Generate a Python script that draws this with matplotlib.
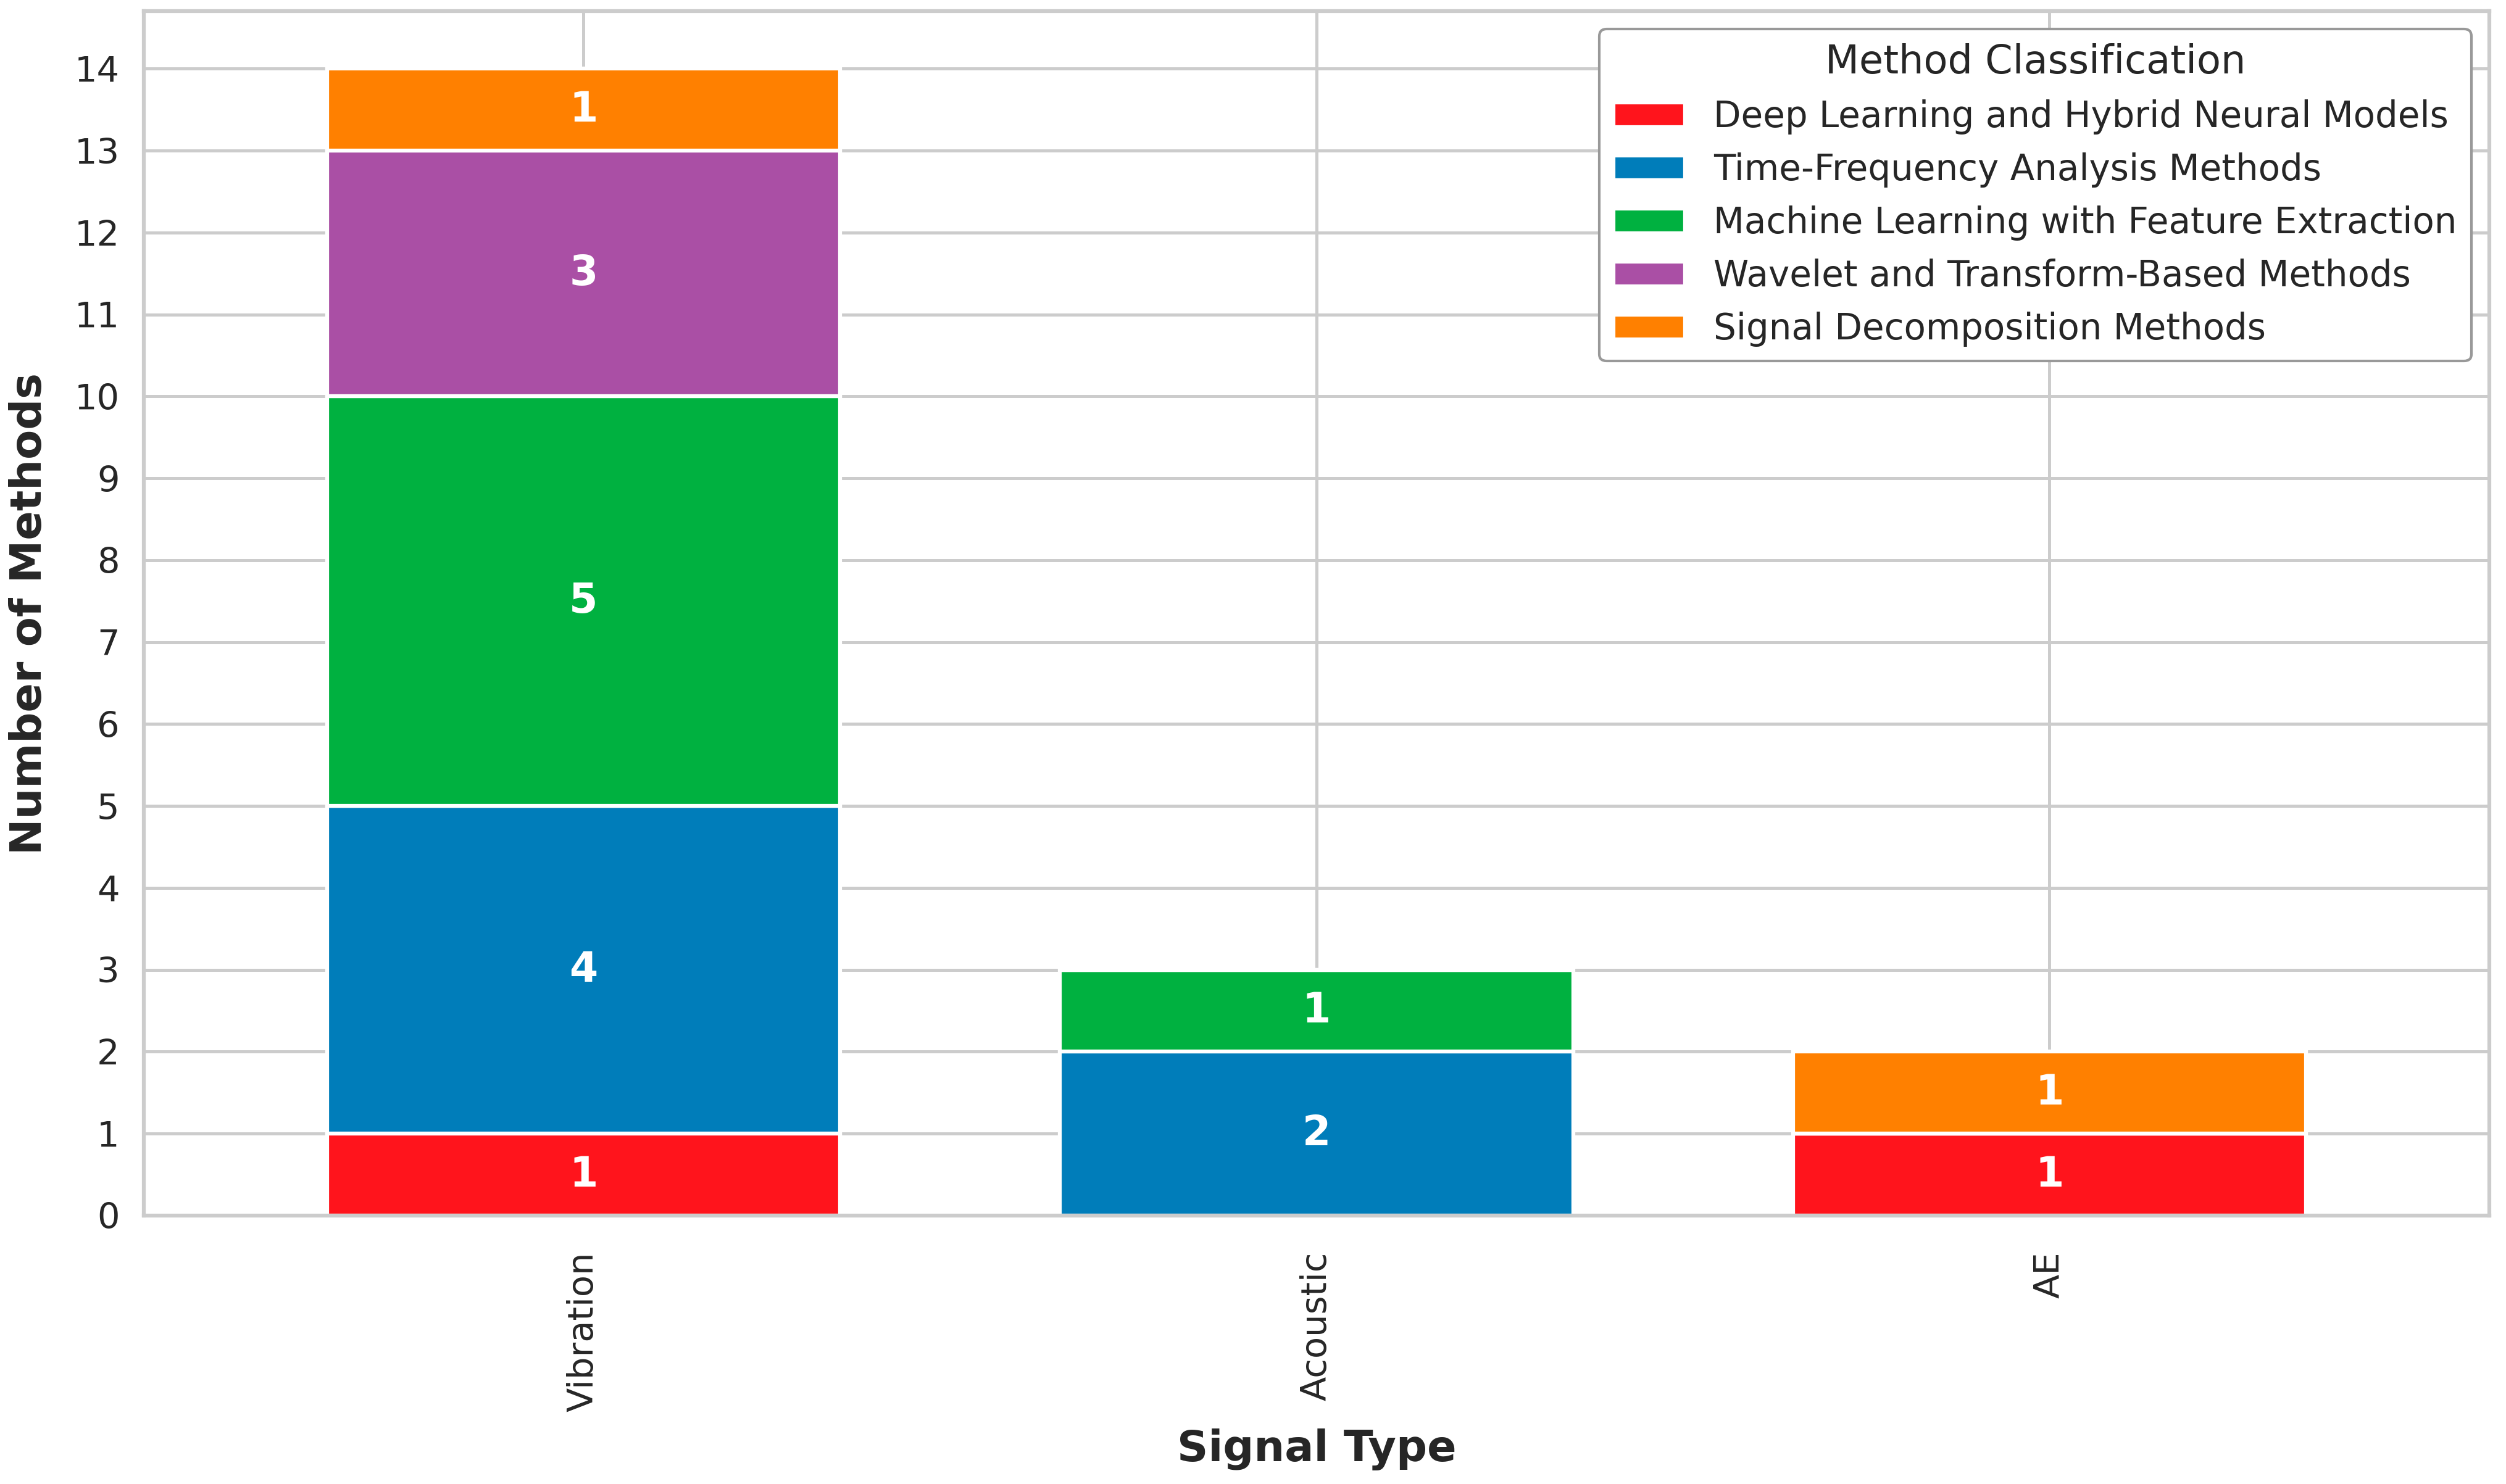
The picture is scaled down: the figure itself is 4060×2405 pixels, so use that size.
import numpy as np
import matplotlib
matplotlib.use('Agg')
import matplotlib.pyplot as plt
import seaborn as sns

sns.set_theme(style='whitegrid')
plt.rcParams['font.family'] = ['DejaVu Sans']

signal_types = ['Vibration', 'Acoustic', 'AE']
methods = ['Deep Learning and Hybrid Neural Models',
           'Time-Frequency Analysis Methods',
           'Machine Learning with Feature Extraction',
           'Wavelet and Transform-Based Methods',
           'Signal Decomposition Methods']
deep_learning = [1, 0, 1]
time_frequency = [4, 2, 0]
machine_learning = [5, 1, 0]
wavelet = [3, 0, 0]
decomposition = [1, 0, 1]
colors = ['#ff141c', '#007dba', '#00b140', '#aa4fa5', '#ff8000']

counts = [deep_learning, time_frequency, machine_learning, wavelet, decomposition]

fig = plt.figure(figsize=(4060 / 300, 2405 / 300), dpi=300)
ax = fig.add_axes([0.0574, 0.1809, 0.9359, 0.8115])

x = np.arange(len(signal_types))
bottom = np.zeros(len(signal_types))
for name, vals, col in zip(methods, counts, colors):
    vals = np.array(vals, dtype=float)
    bars = ax.bar(x, vals, 0.7, bottom=bottom, color=col, label=name,
                  edgecolor='white', linewidth=1.5, zorder=2)
    for b, v in zip(bars, vals):
        if v > 0:
            ax.text(b.get_x() + b.get_width() / 2, b.get_y() + v / 2, f"{int(v)}",
                    ha='center', va='center', color='white', fontsize=16,
                    fontweight='bold', zorder=3)
    bottom += vals

ax.set_xlim(-0.6, 2.6)
ax.set_ylim(0, 14.7)
ax.set_yticks(range(0, 15))
ax.set_xticks(x)
ax.set_xticklabels(signal_types, rotation=90)
ax.tick_params(axis='both', labelsize=13.8)
ax.tick_params(axis='x', pad=8)
ax.set_xlabel('Signal Type', fontsize=16.8, fontweight='bold', labelpad=6.5)
ax.set_ylabel('Number of Methods', fontsize=16.8, fontweight='bold', labelpad=9.5)
for s in ax.spines.values():
    s.set_color('#cccccc')
    s.set_linewidth(1.5)
ax.grid(True, color='#cccccc', linewidth=1.2)
ax.set_axisbelow(True)

leg = ax.legend(title='Method Classification', loc='upper right', fontsize=13.9,
                title_fontsize=15.3, frameon=True, framealpha=1)
leg.get_frame().set_edgecolor('#999999')

fig.savefig('out.png', dpi=300)
